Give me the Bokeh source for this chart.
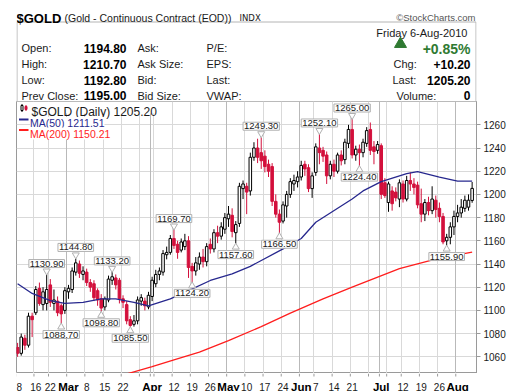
import pandas as pd
from bokeh.plotting import figure
from bokeh.models import Range1d, FixedTicker, Label, Grid
from bokeh.layouts import column
from bokeh.core.properties import value
from bokeh.embed import file_html
from bokeh.resources import INLINE

FONT = "Liberation Sans"

# ---------------- data ----------------
holidays = ["2010-02-15", "2010-04-02", "2010-05-31", "2010-07-05"]
dates = [d for d in pd.bdate_range("2010-02-08", "2010-08-06")
         if d.strftime("%Y-%m-%d") not in holidays]

opens = [1068, 1063, 1076, 1070, 1095, 1098, 1119, 1105, 1106, 1122,
         1106, 1108, 1104, 1100, 1116, 1118, 1133, 1140, 1131, 1133,
         1124, 1123, 1117, 1110, 1103, 1109, 1126, 1128, 1126, 1110,
         1105, 1092, 1088, 1091, 1108, 1108, 1103, 1112, 1123, 1131,
         1133, 1148, 1150, 1162, 1157, 1152, 1155, 1160, 1138, 1134,
         1140, 1146, 1142, 1157, 1153, 1167, 1164, 1170, 1179, 1182,
         1167, 1175, 1205, 1207, 1203, 1232, 1240, 1236, 1233, 1226,
         1224, 1194, 1183, 1177, 1190, 1200, 1209, 1211, 1215, 1226,
         1223, 1205, 1219, 1240, 1238, 1234, 1216, 1226, 1220, 1234,
         1230, 1244, 1256, 1234, 1239, 1236, 1244, 1256, 1241, 1238,
         1242, 1210, 1193, 1203, 1202, 1196, 1209, 1196, 1212, 1209,
         1208, 1192, 1183, 1193, 1186, 1195, 1188, 1181, 1160, 1163,
         1172, 1181, 1184, 1188, 1189, 1194.8]
highs = [1072, 1080, 1079, 1098, 1098, 1121, 1124, 1120, 1130.9, 1127,
         1118, 1112, 1106, 1120, 1122, 1137, 1144.8, 1143, 1138, 1136,
         1127, 1126, 1119, 1114, 1112, 1130, 1133.2, 1131, 1128, 1113,
         1108, 1095, 1096, 1112, 1114, 1111, 1116, 1129, 1135, 1137,
         1152, 1155, 1165, 1169.7, 1160, 1162, 1166, 1164, 1141, 1146,
         1150, 1153, 1158, 1162, 1170, 1173, 1176, 1184, 1190, 1188,
         1177, 1210, 1212, 1210, 1236, 1245, 1248, 1249.3, 1238, 1230,
         1227, 1200, 1187, 1194, 1203, 1214, 1217, 1220, 1229, 1229,
         1226, 1219, 1244, 1252.1, 1241, 1237, 1229, 1230, 1236, 1238,
         1248, 1260, 1265, 1242, 1243, 1248, 1258, 1262, 1246, 1246,
         1244, 1214, 1211, 1207, 1206, 1213, 1212, 1216, 1219, 1214,
         1211, 1205, 1196, 1198, 1207, 1199, 1193, 1184, 1166, 1176,
         1186, 1191, 1196, 1199, 1200, 1210.7]
lows = [1060, 1061, 1066, 1068, 1077, 1096, 1104, 1100, 1100, 1103,
        1100, 1095, 1088.7, 1097, 1110, 1115, 1130, 1128, 1126, 1121,
        1116, 1108, 1104, 1098.8, 1100, 1107, 1122, 1118, 1106, 1102,
        1088, 1085.5, 1086, 1088, 1104, 1100, 1101, 1108, 1120, 1126,
        1130, 1144, 1148, 1153, 1144.5, 1150, 1152, 1128, 1124.2, 1130,
        1135, 1137, 1138, 1149, 1150, 1158, 1161, 1166, 1172, 1163,
        1157.6, 1172, 1196, 1183, 1199, 1229, 1227, 1222, 1219, 1215,
        1190, 1180, 1166.5, 1175, 1180, 1197, 1203, 1206, 1212, 1216,
        1202, 1197, 1216, 1226, 1228, 1209, 1213, 1215, 1218, 1225,
        1226, 1240, 1231, 1229, 1224.4, 1232, 1241, 1234, 1226, 1235,
        1196, 1197, 1185, 1186, 1194, 1189, 1193, 1194, 1203, 1200,
        1188, 1176, 1177, 1182, 1183, 1180, 1176, 1157, 1155.9, 1157,
        1165, 1176, 1180, 1185, 1186, 1192.8]
closes = [1063, 1077, 1070, 1095, 1092, 1118, 1106, 1116, 1118, 1107,
          1109, 1098, 1097, 1117, 1119, 1134, 1141, 1132, 1134, 1124,
          1120, 1111, 1109, 1102, 1110, 1127, 1129, 1122, 1110, 1107,
          1091, 1087, 1091, 1109, 1111, 1104, 1113, 1126, 1131, 1134,
          1149, 1150, 1162, 1156, 1150, 1159, 1160, 1137, 1134, 1141,
          1146, 1142, 1155, 1153, 1167, 1164, 1172, 1180, 1183, 1168,
          1174, 1207, 1209, 1202, 1232, 1240, 1232, 1229, 1224, 1220,
          1194, 1183, 1176, 1191, 1200, 1211, 1212, 1215, 1225, 1222,
          1205, 1216, 1241, 1236, 1233, 1216, 1226, 1220, 1234, 1229,
          1245, 1256, 1234, 1239, 1236, 1245, 1255, 1238, 1237, 1243,
          1200, 1199, 1209, 1192, 1197, 1210, 1196, 1212, 1209, 1206,
          1191, 1183, 1193, 1186, 1196, 1187, 1181, 1159, 1163, 1172,
          1181, 1184, 1189, 1195, 1195, 1205.2]

ma50_idx = [0, 4, 9, 13, 18, 23, 27, 32, 36, 42, 47, 53, 59, 64, 73, 78,
            82, 92, 95, 100, 107, 110, 116, 121, 125]
ma50_val = [1123, 1114.6, 1108.5, 1106, 1107, 1110, 1110, 1107, 1104, 1110,
            1117, 1125.8, 1131.5, 1138, 1153, 1162, 1176, 1196, 1203, 1211,
            1218, 1219.7, 1215, 1211.4, 1211.51]
ma200_idx = [26, 30, 37, 43, 50, 58, 67, 75, 84, 92, 105, 116, 125]
ma200_val = [1041, 1045.2, 1051.6, 1057.4, 1064, 1074, 1086, 1097.7, 1110,
             1120, 1136, 1145, 1150.21]

hilo_idx = [8, 12, 16, 23, 26, 31, 43, 48, 60, 67, 72, 83, 92, 94, 118]
hilo_kind = ["H", "L", "H", "L", "H", "L", "H", "L", "L", "H", "L", "H",
             "H", "L", "L"]

y_ticks = [1060, 1080, 1100, 1120, 1140, 1160, 1180, 1200, 1220, 1240, 1260]
y_grid = y_ticks + [1280]

# ---------------- geometry (page pixels) ----------------
FRAME_L, FRAME_R, FRAME_T, FRAME_B = 16, 476, 101, 373
FRAME_W, FRAME_H = FRAME_R - FRAME_L, FRAME_B - FRAME_T
BORDER_R = 44
XMIN, XMAX = -0.3, 126.2
YMIN, YMAX = 1045.6, 1280.1
PPU = FRAME_H / (YMAX - YMIN)

RED = "#d3103c"
NAVY = "#27288e"
MA_RED = "#ff1e1e"
GREEN = "#2f7a32"


def dx(px):
    return XMIN + (px - FRAME_L) / FRAME_W * (XMAX - XMIN)


def dy(py):
    return YMAX - (py - FRAME_T) / FRAME_H * (YMAX - YMIN)


# ---------------- header ----------------
h = figure(width=FRAME_L + FRAME_W + BORDER_R, height=FRAME_T,
           x_range=Range1d(FRAME_L, FRAME_R), y_range=Range1d(FRAME_T, 0),
           toolbar_location=None, output_backend="svg",
           min_border_left=FRAME_L, min_border_right=BORDER_R,
           min_border_top=0, min_border_bottom=0)
h.axis.visible = False
h.grid.visible = False
h.outline_line_color = None


def htext(x, y, t, size="11px", style="normal", align="left", color="#1a1a1a", font=FONT):
    h.text(x=[x], y=[y], text=[t], text_font=value(font), text_font_size=size,
           text_font_style=style, text_align=align, text_baseline="alphabetic",
           text_color=color)


h.quad(left=[16.5], right=[475.5], top=[21.5], bottom=[104], fill_color="white",
       line_color="#b4b4b4", line_width=1)

htext(16, 18, "$GOLD", size="13px", style="bold", color="#000000")
htext(64, 17.5, "(Gold - Continuous Contract (EOD))", size="10.5px")
htext(239, 17, "INDX", size="8.5px", font="DejaVu Sans")
htext(475, 16.5, "\u00a9StockCharts.com", size="9.5px", align="right", color="#555555")

last = dates[-1]
htext(470, 32, f"{last:%A}  {last.day}-{last:%b-%Y}", align="right")

rows_y = [47.5, 63.5, 79.5, 95]
left_labels = ["Open:", "High:", "Low:", "Prev Close:"]
left_values = [opens[-1], highs[-1], lows[-1], closes[-2]]
mid_labels = ["Ask:", "Ask Size:", "Bid:", "Bid Size:"]
mid2_labels = ["P/E:", "EPS:", "Last:", "VWAP:"]
for yy, a, v, b, c in zip(rows_y, left_labels, left_values, mid_labels, mid2_labels):
    htext(21, yy, a)
    htext(126, yy, f"{v:.2f}", size="12px", style="bold", align="right", color="#000000")
    htext(137, yy, b)
    htext(206, yy, c)

chg = closes[-1] - closes[-2]
pct = chg / closes[-2] * 100
h.scatter(x=[400], y=[43.5], marker="triangle", size=12, fill_color=GREEN, line_color=GREEN)
htext(470, 48, f"{pct:+.2f}%", size="14px", style="bold", align="right", color=GREEN)
htext(393, rows_y[1], "Chg:")
htext(470, rows_y[1], f"{chg:+.2f}", size="12px", style="bold", align="right", color="#000000")
htext(392, rows_y[2], "Last:")
htext(470, rows_y[2], f"{closes[-1]:.2f}", size="12px", style="bold", align="right", color="#000000")
htext(396, rows_y[3], "Volume:")
htext(470, rows_y[3], "0", size="12px", style="bold", align="right", color="#000000")

# ---------------- chart ----------------
p = figure(width=FRAME_L + FRAME_W + BORDER_R, height=FRAME_H,
           x_range=Range1d(XMIN, XMAX), y_range=Range1d(YMIN, YMAX),
           y_axis_location="right", toolbar_location=None, output_backend="svg",
           min_border_left=FRAME_L, min_border_right=BORDER_R,
           min_border_top=0, min_border_bottom=0)
p.outline_line_color = "#9a9a9a"
p.xaxis.visible = False
p.xgrid.visible = False

ax = p.yaxis[0]
ax.ticker = FixedTicker(ticks=y_ticks)
ax.major_label_text_font = FONT
ax.major_label_text_font_size = "10px"
ax.major_label_text_color = "#1a1a1a"
ax.axis_line_color = "#9a9a9a"
ax.major_tick_line_color = "#9a9a9a"
ax.major_tick_out = 4
ax.major_tick_in = 0
ax.minor_tick_out = 0
ax.minor_tick_in = 0
ax.major_label_standoff = 3
p.ygrid.ticker = FixedTicker(ticks=y_grid)
p.ygrid.grid_line_color = "#d9d9d9"

# x ticks: first trading day of each week and of each month
week_idx = [i for i, d in enumerate(dates)
            if i == 0 or d.isocalendar()[1] != dates[i - 1].isocalendar()[1]]
month_idx = [i for i, d in enumerate(dates) if i > 0 and d.month != dates[i - 1].month]
grid_idx = sorted(set(week_idx) | set(month_idx))
p.add_layout(Grid(dimension=0, ticker=FixedTicker(ticks=[i - 0.5 for i in week_idx if i not in month_idx]),
                  grid_line_color="#d9d9d9"))
p.add_layout(Grid(dimension=0, ticker=FixedTicker(ticks=[i - 0.5 for i in month_idx]),
                  grid_line_color="#b9b9b9"))

# candles
idx = list(range(len(dates)))
up = [c >= o for o, c in zip(opens, closes)]
ux = [i for i in idx if up[i]]
rx = [i for i in idx if not up[i]]
p.segment(x0=ux, y0=[lows[i] for i in ux], x1=ux, y1=[highs[i] for i in ux],
          line_color="black", line_width=1)
p.segment(x0=rx, y0=[lows[i] for i in rx], x1=rx, y1=[highs[i] for i in rx],
          line_color=RED, line_width=1)
p.vbar(x=ux, width=0.7, top=[closes[i] for i in ux], bottom=[opens[i] for i in ux],
       fill_color="white", line_color="black", line_width=1)
p.vbar(x=rx, width=0.7, top=[opens[i] for i in rx], bottom=[closes[i] for i in rx],
       fill_color=RED, line_color=RED, line_width=1)

# moving averages
p.line(ma200_idx, ma200_val, line_color=MA_RED, line_width=1.3)
p.line(ma50_idx, ma50_val, line_color=NAVY, line_width=1.3)

# high / low annotations
hx = [i for i, k in zip(hilo_idx, hilo_kind) if k == "H"]
lx = [i for i, k in zip(hilo_idx, hilo_kind) if k == "L"]
p.scatter(x=hx, y=[highs[i] + 3.5 / PPU for i in hx], marker="inverted_triangle", size=7,
          fill_color="white", line_color="#b0b0b0")
p.scatter(x=lx, y=[lows[i] - 3.5 / PPU for i in lx], marker="triangle", size=7,
          fill_color="white", line_color="#b0b0b0")
for i, k in zip(hilo_idx, hilo_kind):
    v = highs[i] if k == "H" else lows[i]
    p.add_layout(Label(x=i, y=v, y_offset=(7 if k == "H" else -7), text=f"{v:.2f}",
                       text_align="center", text_baseline=("bottom" if k == "H" else "top"),
                       text_font=FONT, text_font_size="9.5px", text_color="#1a1a1a",
                       background_fill_color="white", border_line_color="#b0b0b0",
                       padding=1))

# legend
p.quad(left=[dx(16.5)], right=[dx(162)], top=[dy(101.5)], bottom=[dy(113)],
       fill_color="white", line_color=None)
p.segment(x0=[dx(21.5), dx(25.5)], y0=[dy(103.5), dy(104.5)], x1=[dx(21.5), dx(25.5)],
          y1=[dy(111.5), dy(110.5)], line_color=["black", RED])
p.quad(left=[dx(20.5), dx(24.5)], right=[dx(22.5), dx(26.5)], top=[dy(105), dy(106)],
       bottom=[dy(110), dy(109)], fill_color=["white", RED], line_color=["black", RED])
p.add_layout(Label(x=dx(31), y=dy(111), text=f"$GOLD (Daily) {closes[-1]:.2f}",
                   text_baseline="alphabetic", text_font=FONT, text_font_size="12px",
                   text_color="#1a1a1a"))
for yy, col, txt in [(119, NAVY, f"MA(50) {ma50_val[-1]:.2f}"),
                     (129.5, MA_RED, f"MA(200) {ma200_val[-1]:.2f}")]:
    p.add_layout(Label(x=dx(29.5), y=dy(yy + 3.5), text=txt, text_baseline="alphabetic",
                       text_font=FONT, text_font_size="10.5px", text_color=col,
                       background_fill_color="white"))
    p.line([dx(18.5), dx(28)], [dy(yy), dy(yy)], line_color=col, line_width=2)

# ---------------- x-axis label strip ----------------
s = figure(width=FRAME_L + FRAME_W + BORDER_R, height=391 - FRAME_B,
           x_range=p.x_range, y_range=Range1d(391, FRAME_B),
           toolbar_location=None, output_backend="svg",
           min_border_left=FRAME_L, min_border_right=BORDER_R,
           min_border_top=0, min_border_bottom=0)
s.axis.visible = False
s.grid.visible = False
s.outline_line_color = None
s.segment(x0=[i - 0.5 for i in grid_idx], y0=[FRAME_B] * len(grid_idx),
          x1=[i - 0.5 for i in grid_idx], y1=[FRAME_B + 3] * len(grid_idx),
          line_color="#9a9a9a")

day_x, day_t, mon_x, mon_t = [], [], [], []
first_t = None
for i in grid_idx:
    d = dates[i]
    if i in month_idx:
        mon_x.append(i)
        mon_t.append(d.strftime("%b"))
    elif not any(abs(i - m) <= 3 for m in month_idx):
        if i == 0:
            first_t = str(d.day)
        else:
            day_x.append(i)
            day_t.append(str(d.day))
if first_t is not None:
    s.text(x=[XMIN], y=[386.5], text=[first_t], text_font=value(FONT),
           text_font_size="10px", text_align="left", text_baseline="alphabetic",
           text_color="#1a1a1a")
s.text(x=day_x, y=[386.5] * len(day_x), text=day_t, text_font=value(FONT),
       text_font_size="10px", text_align="center", text_baseline="alphabetic",
       text_color="#1a1a1a")
s.text(x=mon_x, y=[386.5] * len(mon_x), text=mon_t, text_font=value(FONT),
       text_font_size="11.5px", text_font_style="bold", text_align="center",
       text_baseline="alphabetic", text_color="#000000")

layout = column(h, p, s, spacing=0)
open("out.html", "w").write(file_html(layout, INLINE))
